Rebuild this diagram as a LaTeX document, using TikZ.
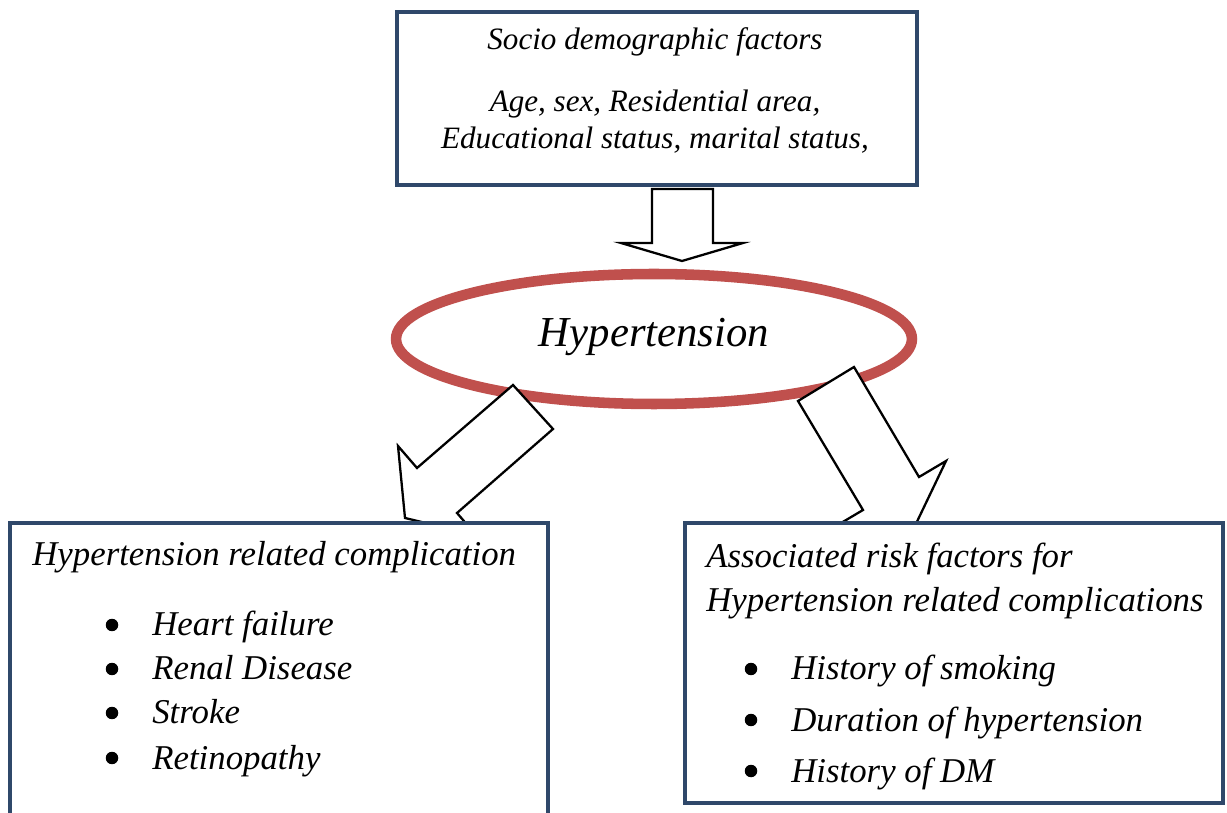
\documentclass[tikz,border=0pt]{standalone}
\usepackage{fontspec}
\setmainfont{Liberation Serif}
\usetikzlibrary{shapes.geometric,positioning}
\definecolor{boxblue}{RGB}{47,72,106}
\definecolor{ringred}{RGB}{192,80,77}
\tikzstyle{factorbox} = [rectangle, draw=boxblue, line width=2.3pt, fill=white, inner sep=0pt]
\tikzstyle{ring} = [ellipse, draw=ringred, line width=6pt, inner sep=0pt, minimum width=10.32cm, minimum height=2.6cm]
\tikzstyle{blockarrow} = [draw=black, fill=white, line width=1.3pt, line join=miter]
\tikzstyle{txt} = [anchor=base west, inner sep=0pt, font=\fontsize{19.8}{24}\selectfont\itshape]
\tikzstyle{ctxt} = [anchor=base, inner sep=0pt, font=\fontsize{17.7}{22}\selectfont\itshape]
\tikzstyle{dot} = [circle, fill=black, inner sep=0pt, minimum size=0.25cm]

\begin{document}
\begin{tikzpicture}[x=0.02cm, y=-0.02cm]
\useasboundingbox (0,0) rectangle (1227,813);
\clip (0,0) rectangle (1227,813);

\node (socio) [factorbox, minimum width=10.4cm, minimum height=3.46cm] at (657,98.5) {};
\node (socio1) [ctxt] at (655,50) {Socio demographic factors};
\node (socio2) [ctxt] at (655,112) {Age, sex, Residential area,};
\node (socio3) [ctxt] at (655,149) {Educational status, marital status,};

\node (htn) [ring] at (654,339) {};
\node (htntxt) [anchor=base, inner sep=0pt, font=\fontsize{24.3}{28}\selectfont\itshape] at (654,347) {Hypertension};

% block arrows
\draw [blockarrow] (652,189) -- (713,189) -- (713,243) -- (743,243) -- (682,261) -- (621,243) -- (652,243) -- cycle;
\draw [blockarrow] (513,385) -- (553,429) -- (457,513) -- (476,535) -- (405,518) -- (398,446) -- (417,468) -- cycle;
\draw [blockarrow] (798,401) -- (854,367) -- (919,477) -- (946,461) -- (913,530) -- (836,526) -- (863,510) -- cycle;

\node (compl) [factorbox, minimum width=10.76cm, minimum height=6.54cm] at (279,686.5) {};
\node (compl0) [txt] at (32,566) {Hypertension related complication};
\node (compl1) [txt] at (152,636) {Heart failure};
\node (compl2) [txt] at (152,680) {Renal Disease};
\node (compl3) [txt] at (152,724) {Stroke};
\node (compl4) [txt] at (152,769) {Retinopathy};
\node (dot1) [dot] at (112,625) {};
\node (dot2) [dot] at (112,669) {};
\node (dot3) [dot] at (112,713) {};
\node (dot4) [dot] at (112,758) {};

\node (risk) [factorbox, minimum width=10.76cm, minimum height=5.6cm] at (954,663) {};
\node (risk0) [txt] at (706,568) {Associated risk factors for};
\node (risk1) [txt] at (706,612) {Hypertension related complications};
\node (risk2) [txt] at (791,680) {History of smoking};
\node (risk3) [txt] at (791,731) {Duration of hypertension};
\node (risk4) [txt] at (791,782) {History of DM};
\node (dot5) [dot] at (751,669) {};
\node (dot6) [dot] at (751,720) {};
\node (dot7) [dot] at (751,771) {};

\end{tikzpicture}
\end{document}
